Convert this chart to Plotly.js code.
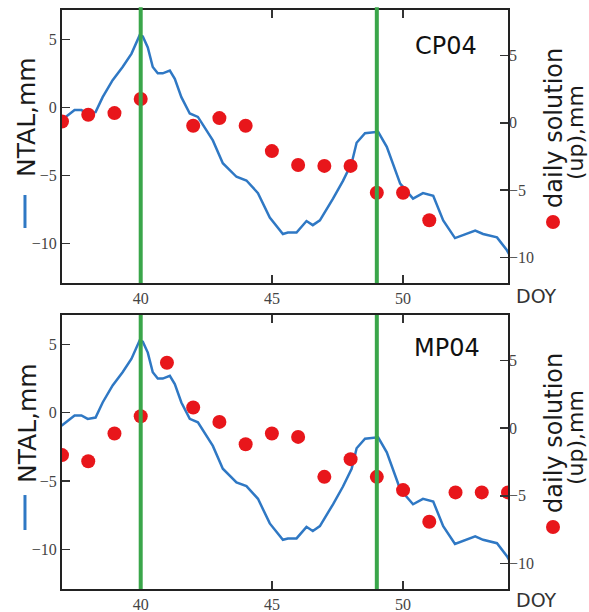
<!DOCTYPE html>
<html>
<head>
<meta charset="utf-8">
<script src="https://cdn.plot.ly/plotly-3.0.1.min.js"></script>
<style>html,body{margin:0;padding:0;background:#fff;}#chart{width:589px;height:612px;}</style>
</head>
<body>
<div id="chart"></div>
<script>
// NTAL series (DOY, mm) - same in both panels
const ntalDoy = [36.98,37.16,37.48,37.74,37.98,38.28,38.55,38.93,39.31,39.65,39.96,40.08,40.27,40.46,40.65,40.84,41.11,41.30,41.55,41.87,42.18,42.75,43.13,43.65,44.03,44.47,44.92,45.42,45.61,45.94,46.32,46.56,46.83,47.33,47.71,48.04,48.23,48.55,49.05,49.38,49.89,50.38,50.76,51.15,51.53,51.98,52.24,52.75,53.05,53.58,53.96,54.08];
const ntalVal = [-0.95,-0.7,-0.2,-0.2,-0.45,-0.35,0.75,2.0,2.96,3.95,5.3,5.2,4.4,2.96,2.5,2.5,2.7,2.1,0.75,-0.45,-0.7,-2.43,-4.1,-5.1,-5.37,-6.3,-8.1,-9.3,-9.2,-9.2,-8.35,-8.65,-8.3,-6.7,-5.4,-4.1,-2.6,-1.9,-1.8,-2.9,-5.6,-6.7,-6.3,-6.5,-8.3,-9.6,-9.4,-9.05,-9.3,-9.55,-10.5,-10.9];

// Daily solutions (up), mm
const cpDoy = [37,38,39,40,42,43,44,45,46,47,48,49,50,51];
const cpUp  = [0.1,0.6,0.72,1.77,-0.22,0.35,-0.22,-2.1,-3.13,-3.2,-3.2,-5.2,-5.2,-7.24];
const mpDoy = [37,38,39,40,41,42,43,44,45,46,47,48,49,50,51,52,53,54];
const mpUp  = [-1.99,-2.44,-0.39,0.89,4.85,1.53,0.47,-1.18,-0.39,-0.64,-3.6,-2.29,-3.6,-4.58,-6.92,-4.75,-4.75,-4.75];

// Event markers (DOY) and labels
const eventDoy = [40, 49];
const xTicks = [40, 45, 50];
const yTicks = [-10, -5, 0, 5];
const panelNames = ['CP04', 'MP04'];

const blue = '#2f78c4', red = '#e8161b', green = '#3aa64a';
const tickFont = {family: 'Liberation Serif, serif', size: 16, color: '#444'};
const titleFont = {family: 'DejaVu Sans, sans-serif', size: 25, color: '#1a1a1a'};
const rightFont1 = {family: 'DejaVu Sans, sans-serif', size: 24, color: '#1a1a1a'};
const rightFont2 = {family: 'DejaVu Sans, sans-serif', size: 22, color: '#1a1a1a'};

const traces = [
  {x: ntalDoy, y: ntalVal, xaxis: 'x2', yaxis: 'y3', mode: 'lines', line: {color: blue, width: 2.5}},
  {x: cpDoy, y: cpUp, xaxis: 'x2', yaxis: 'y4', mode: 'markers', marker: {color: red, size: 14}},
  {x: ntalDoy, y: ntalVal, xaxis: 'x', yaxis: 'y', mode: 'lines', line: {color: blue, width: 2.5}},
  {x: mpDoy, y: mpUp, xaxis: 'x', yaxis: 'y2', mode: 'markers', marker: {color: red, size: 14}}
];

const xBase = {range: [37, 54], tickvals: xTicks, ticks: 'inside', ticklen: 8, tickwidth: 1.5, tickcolor: '#333',
  showline: true, linecolor: '#222', linewidth: 2, mirror: 'ticks', showgrid: false, zeroline: false, tickfont: tickFont};
const yLeft = {range: [-12.9, 7.15], tickvals: yTicks, ticks: 'inside', ticklen: 8, tickwidth: 1.5, tickcolor: '#333',
  showline: true, linecolor: '#222', linewidth: 2, mirror: true, showgrid: false, zeroline: false, tickfont: tickFont};
const yRight = {range: [-11.9, 8.38], tickvals: yTicks, ticks: 'inside', ticklen: 8, tickwidth: 1.5, tickcolor: '#333',
  showline: false, side: 'right', showgrid: false, zeroline: false, tickfont: tickFont};

const shapes = [];
eventDoy.forEach(d => {
  shapes.push({type: 'line', xref: 'x2', yref: 'y3 domain', x0: d, x1: d, y0: 0, y1: 1.01, line: {color: green, width: 4}, layer: 'above'});
  shapes.push({type: 'line', xref: 'x', yref: 'y domain', x0: d, x1: d, y0: 0, y1: 1.0, line: {color: green, width: 4}, layer: 'above'});
});
// legend-style markers next to axis titles
shapes.push({type: 'line', xref: 'paper', yref: 'paper', x0: -0.083, x1: -0.083, y0: 0.6235, y1: 0.6805, line: {color: blue, width: 3}});
shapes.push({type: 'line', xref: 'paper', yref: 'paper', x0: -0.083, x1: -0.083, y0: 0.1019, y1: 0.1623, line: {color: blue, width: 3}});
shapes.push({type: 'circle', xref: 'paper', yref: 'paper', x0: 1.1009-0.0157, x1: 1.1009+0.0157, y0: 0.6339-0.0121, y1: 0.6339+0.0121, fillcolor: red, line: {width: 0}});
shapes.push({type: 'circle', xref: 'paper', yref: 'paper', x0: 1.1009-0.0157, x1: 1.1009+0.0157, y0: 0.1071-0.0121, y1: 0.1071+0.0121, fillcolor: red, line: {width: 0}});

const ann = (text, x, y, font, angle) => ({text: text, x: x, y: y, xref: 'paper', yref: 'paper', showarrow: false,
  xanchor: 'center', yanchor: 'middle', font: font, textangle: angle || 0});

const annotations = [
  ann('NTAL,mm', -0.0785, 0.8152, titleFont, -90),
  ann('NTAL,mm', -0.0785, 0.2867, titleFont, -90),
  ann('daily solution', 1.103, 0.7962, rightFont1, -90),
  ann('(up),mm', 1.1525, 0.7876, rightFont2, -90),
  ann('daily solution', 1.103, 0.2694, rightFont1, -90),
  ann('(up),mm', 1.1525, 0.2608, rightFont2, -90),
  ann(panelNames[0], 0.861, 0.9378, {family: 'DejaVu Sans, sans-serif', size: 24, color: '#111'}),
  ann(panelNames[1], 0.8632, 0.4162, {family: 'DejaVu Sans, sans-serif', size: 24, color: '#111'}),
  ann('DOY', 1.0628, 0.506, {family: 'DejaVu Sans, sans-serif', size: 19, color: '#333'}),
  ann('DOY', 1.0628, -0.019, {family: 'DejaVu Sans, sans-serif', size: 19, color: '#333'})
];

const layout = {
  width: 589, height: 612,
  margin: {l: 62, r: 81, t: 10, b: 23},
  paper_bgcolor: '#fff', plot_bgcolor: '#fff',
  showlegend: false,
  xaxis: Object.assign({}, xBase, {domain: [0, 1], anchor: 'y'}),
  xaxis2: Object.assign({}, xBase, {domain: [0, 1], anchor: 'y3'}),
  yaxis: Object.assign({}, yLeft, {domain: [0, 0.4732], anchor: 'x'}),
  yaxis2: Object.assign({}, yRight, {overlaying: 'y', anchor: 'x'}),
  yaxis3: Object.assign({}, yLeft, {domain: [0.5285, 1], anchor: 'x2'}),
  yaxis4: Object.assign({}, yRight, {overlaying: 'y3', anchor: 'x2'}),
  shapes: shapes,
  annotations: annotations
};

Plotly.newPlot('chart', traces, layout, {staticPlot: true});
</script>
</body>
</html>
